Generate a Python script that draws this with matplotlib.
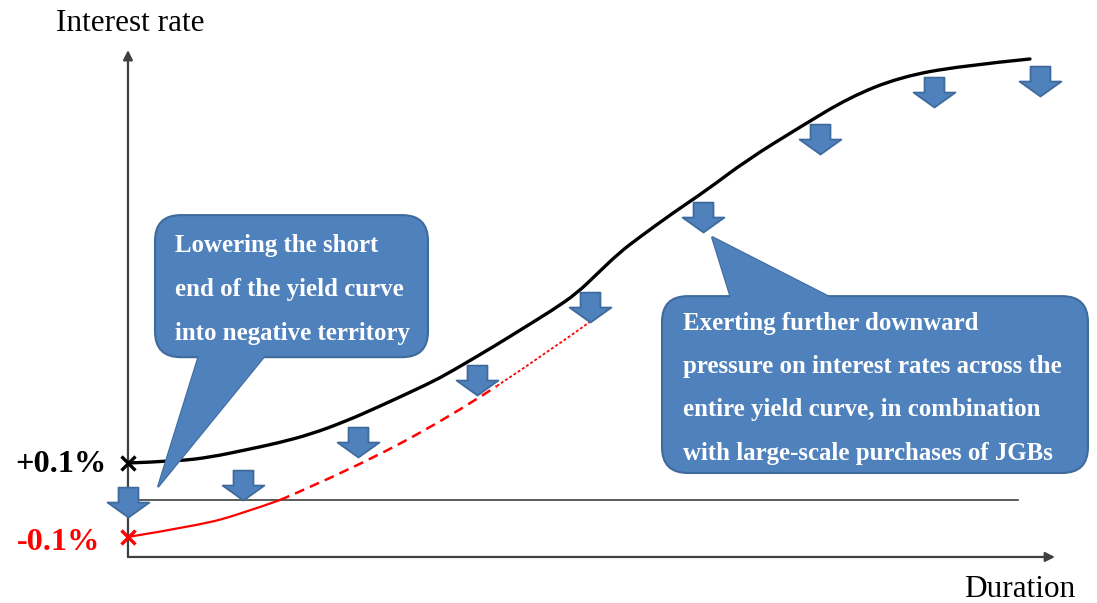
import numpy as np
import matplotlib
matplotlib.use('Agg')
import matplotlib.pyplot as plt
from matplotlib.patches import FancyBboxPatch, Polygon, PathPatch
from matplotlib.path import Path

# current yield curve (duration, rate in %)
duration_now = [0.000, 0.542, 0.900, 1.269, 1.627, 1.985, 2.354, 2.711, 3.275, 3.492,
                4.002, 4.252, 4.610, 4.870, 5.087, 5.336, 5.553, 5.911, 6.280, 6.714,
                7.289, 7.831, 8.373, 9.024, 9.783]
rate_now = [0.100, 0.105, 0.116, 0.135, 0.154, 0.178, 0.212, 0.251, 0.316, 0.345,
            0.420, 0.459, 0.514, 0.559, 0.611, 0.670, 0.711, 0.776, 0.838, 0.919,
            1.008, 1.089, 1.143, 1.173, 1.192]

# lowered short end
duration_neg = [0.0, 0.78, 1.22, 1.65, 2.41, 3.49, 4.00, 4.54, 5.07]
rate_neg = [-0.100, -0.068, -0.038, 0.000, 0.081, 0.224, 0.308, 0.397, 0.492]

# downward pressure arrows (tip positions)
arrow_x = [0.0, 1.25, 2.50, 3.79, 5.01, 6.24, 7.51, 8.74, 9.89]
arrow_y = [-0.046, 0.000, 0.116, 0.284, 0.481, 0.724, 0.935, 1.062, 1.092]

tick_labels = ['+0.1%', '-0.1%']
tick_values = [0.1, -0.1]

box1_lines = ['Lowering the short', 'end of the yield curve', 'into negative territory']
box2_lines = ['Exerting further downward', 'pressure on interest rates across the',
              'entire yield curve, in combination', 'with large-scale purchases of JGBs']

BLUE = '#4F81BD'
BLUE_EDGE = '#3F6A9C'
AXIS = '#404040'
serif = 'Liberation Serif'

fig = plt.figure(figsize=(10.97, 6.03), dpi=100)
ax = fig.add_axes([0, 0, 1, 1])
ax.set_xlim(-1.388, 10.510)
ax.set_ylim(-0.2784, 1.3514)
ax.axis('off')


def smooth_path(xs, ys):
    # quadratic bezier chain through the read points (points used as controls)
    pts = list(zip(xs, ys))
    verts = [pts[0]]
    codes = [Path.MOVETO]
    for i in range(1, len(pts) - 1):
        mid = ((pts[i][0] + pts[i + 1][0]) / 2, (pts[i][1] + pts[i + 1][1]) / 2)
        if i == len(pts) - 2:
            mid = pts[i + 1]
        verts += [pts[i], mid]
        codes += [Path.CURVE3, Path.CURVE3]
    if len(pts) == 2:
        verts.append(pts[1])
        codes.append(Path.LINETO)
    return Path(verts, codes)


def draw_curve(xs, ys, **kw):
    patch = PathPatch(smooth_path(xs, ys), fill=False, transform=ax.transData, **kw)
    ax.add_patch(patch)


# axes with arrow heads
ax.annotate('', xy=(0, 1.216), xytext=(0, -0.154),
            arrowprops=dict(arrowstyle='-|>', color=AXIS, lw=1.6, mutation_scale=14,
                            shrinkA=0, shrinkB=0))
ax.annotate('', xy=(10.054, -0.154), xytext=(0, -0.154),
            arrowprops=dict(arrowstyle='-|>', color=AXIS, lw=1.6, mutation_scale=14,
                            shrinkA=0, shrinkB=0))
ax.plot([0, 9.653], [0, 0], color=AXIS, lw=1.2, zorder=2)

# curves
draw_curve(duration_now, rate_now, edgecolor='black', lw=2.4, capstyle='round', zorder=3)
draw_curve(duration_neg[:4], rate_neg[:4], edgecolor='red', lw=1.6, zorder=3)
draw_curve(duration_neg[3:7], rate_neg[3:7], edgecolor='red', lw=1.8,
           linestyle=(0, (4, 2.5)), zorder=3)
draw_curve(duration_neg[6:], rate_neg[6:], edgecolor='red', lw=1.3,
           linestyle=(0, (1.6, 1.2)), zorder=3)

ax.plot([0], [tick_values[0]], marker='x', color='black', ms=10, mew=2.4, zorder=6)
ax.plot([0], [tick_values[1]], marker='x', color='red', ms=10, mew=2.4, zorder=6)
ax.text(-0.228, 0.095, tick_labels[0], ha='right', va='center', fontsize=23.3,
        fontweight='bold', family=serif, color='black')
ax.text(-0.304, -0.114, tick_labels[1], ha='right', va='center', fontsize=23.3,
        fontweight='bold', family=serif, color='red')

ax.text(0.022, 1.289, 'Interest rate', ha='center', va='center', fontsize=22.5, family=serif)
ax.text(9.675, -0.243, 'Duration', ha='center', va='center', fontsize=22.5, family=serif)

# block arrow marker, tip at origin
arrow_verts = [(0, 0), (21, 15), (10, 15), (10, 30), (-10, 30), (-10, 15), (-21, 15), (0, 0)]
arrow_codes = [Path.MOVETO] + [Path.LINETO] * 6 + [Path.CLOSEPOLY]
arrow_marker = Path(arrow_verts, arrow_codes)
ax.plot(arrow_x, arrow_y, linestyle='none', marker=arrow_marker, ms=43,
        markerfacecolor=BLUE, markeredgecolor=BLUE_EDGE, mew=1.3, zorder=7)


def callout(x0, y0, x1, y1, tail, lines, tx, ty, dy):
    aspect = 92.2 / 370
    tri = Polygon(tail, closed=True, facecolor=BLUE, edgecolor=BLUE_EDGE, lw=1.5, zorder=8)
    ax.add_patch(tri)
    box = FancyBboxPatch((x0, y0), x1 - x0, y1 - y0,
                         boxstyle='round,pad=0,rounding_size=0.28', mutation_aspect=aspect,
                         facecolor=BLUE, edgecolor=BLUE_EDGE, lw=1.5, zorder=9)
    ax.add_patch(box)
    cover = Polygon(tail, closed=True, facecolor=BLUE, edgecolor='none', zorder=10)
    ax.add_patch(cover)
    for i, line in enumerate(lines):
        ax.text(tx, ty - i * dy, line, ha='left', va='center', fontsize=17.9,
                fontweight='bold', family=serif, color='white', zorder=11)


callout(0.293, 0.386, 3.254, 0.770,
        [(0.781, 0.40), (1.518, 0.40), (0.325, 0.035)],
        box1_lines, 0.51, 0.689, 0.119)
callout(5.792, 0.073, 10.412, 0.551,
        [(6.551, 0.537), (7.701, 0.537), (6.334, 0.711)],
        box2_lines, 6.02, 0.478, 0.117)

fig.savefig('out.png', dpi=100)
